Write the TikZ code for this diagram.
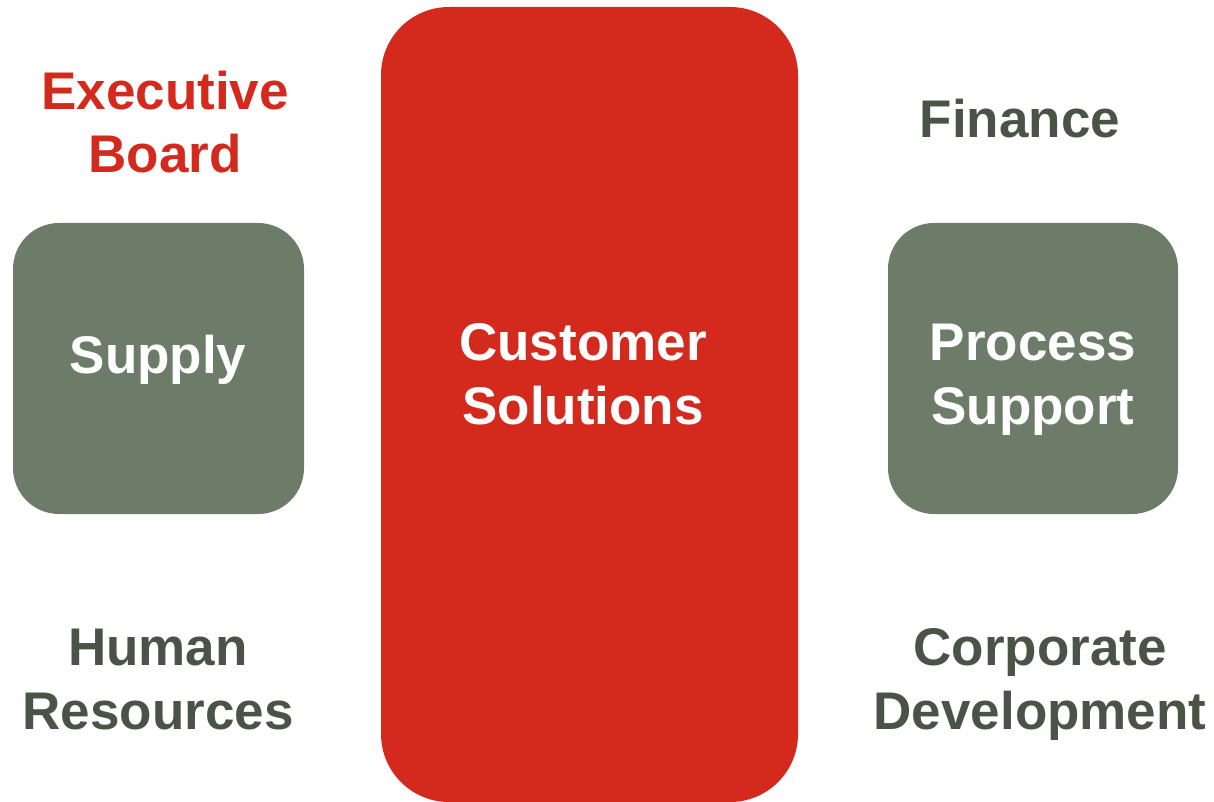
\documentclass[tikz,border=0pt]{standalone}
\usepackage{fontspec}
\setmainfont{Liberation Sans}
\definecolor{cred}{HTML}{D42A1E}
\definecolor{cbox}{HTML}{6C7C69}
\definecolor{ctext}{HTML}{4A5446}
\tikzset{
  lbl/.style={font=\bfseries\fontsize{53}{63.5}\selectfont, align=center, inner sep=0pt, anchor=base},
  darklbl/.style={lbl, text=ctext},
  whitelbl/.style={lbl, text=white},
  gbox/.style={fill=cbox, rounded corners=46pt},
}
\begin{document}
\begin{tikzpicture}[x=1pt,y=-1pt]
\useasboundingbox (0,0) rectangle (1214,802);
\fill[cred, rounded corners=68pt] (381,7) rectangle (798,802);
\fill[gbox] (13,223) rectangle (304,514);
\fill[gbox] (888,223) rectangle (1178,514);
\node[lbl, text=cred] (exec) at (165,173) {Executive\\Board};
\node[darklbl] (fin) at (1020,138) {Finance};
\node[whitelbl] (sup) at (158,373) {Supply};
\node[whitelbl] (cust) at (583,424) {Customer\\Solutions};
\node[whitelbl] (proc) at (1033,424) {Process\\Support};
\node[darklbl] (hr) at (158,729) {Human\\Resources};
\node[darklbl] (corp) at (1040,729) {Corporate\\Development};
\end{tikzpicture}
\end{document}
